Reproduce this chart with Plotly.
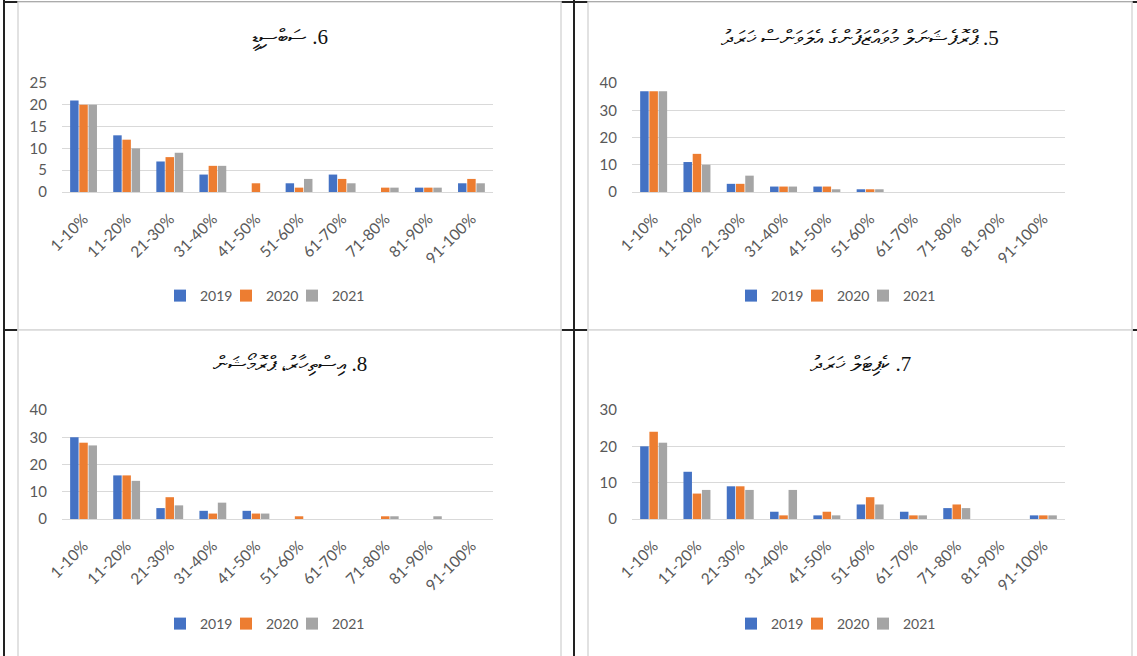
import plotly.graph_objects as go

W, H = 1137, 656

categories = ["1-10%", "11-20%", "21-30%", "31-40%", "41-50%",
              "51-60%", "61-70%", "71-80%", "81-90%", "91-100%"]
years = ["2019", "2020", "2021"]
colors = ["#4472C4", "#ED7D31", "#A5A5A5"]

# Chart 6 (top-left)
title_6 = "6. ސަބްސިޑީ"
c6_2019 = [21, 13, 7, 4, 0, 2, 4, 0, 1, 2]
c6_2020 = [20, 12, 8, 6, 2, 1, 3, 1, 1, 3]
c6_2021 = [20, 10, 9, 6, 0, 3, 2, 1, 1, 2]
c6_ticks = [0, 5, 10, 15, 20, 25]

# Chart 5 (top-right)
title_5 = "5. ޕްރޮފެޝަނަލް މުވައްޒަފުންގެ އެލަވަންސް ޚަރަދު"
c5_2019 = [37, 11, 3, 2, 2, 1, 0, 0, 0, 0]
c5_2020 = [37, 14, 3, 2, 2, 1, 0, 0, 0, 0]
c5_2021 = [37, 10, 6, 2, 1, 1, 0, 0, 0, 0]
c5_ticks = [0, 10, 20, 30, 40]

# Chart 8 (bottom-left)
title_8 = "8. އިސްތިހާރު، ޕްރޮމޯޝަން"
c8_2019 = [30, 16, 4, 3, 3, 0, 0, 0, 0, 0]
c8_2020 = [28, 16, 8, 2, 2, 1, 0, 1, 0, 0]
c8_2021 = [27, 14, 5, 6, 2, 0, 0, 1, 1, 0]
c8_ticks = [0, 10, 20, 30, 40]

# Chart 7 (bottom-right)
title_7 = "7. ކެޕިޓަލް ޚަރަދު"
c7_2019 = [20, 13, 9, 2, 1, 4, 2, 3, 0, 1]
c7_2020 = [24, 7, 9, 1, 2, 6, 1, 4, 0, 1]
c7_2021 = [21, 8, 8, 8, 1, 4, 1, 3, 0, 1]
c7_ticks = [0, 10, 20, 30]

def px_x(p):
    return p / W

def px_y(p):
    return 1 - p / H

panels = [
    dict(title=title_6, series=[c6_2019, c6_2020, c6_2021], ticks=c6_ticks,
         box=(18, 2, 561, 330), plot=(62, 83, 493, 192), tc=(290, 38), lc=(269, 296)),
    dict(title=title_5, series=[c5_2019, c5_2020, c5_2021], ticks=c5_ticks,
         box=(588, 2, 1132, 330), plot=(632, 83, 1065, 192), tc=(860, 38), lc=(840, 296)),
    dict(title=title_8, series=[c8_2019, c8_2020, c8_2021], ticks=c8_ticks,
         box=(18, 330, 561, 660), plot=(62, 410, 493, 519), tc=(290, 364), lc=(269, 624)),
    dict(title=title_7, series=[c7_2019, c7_2020, c7_2021], ticks=c7_ticks,
         box=(588, 330, 1132, 660), plot=(632, 410, 1065, 519), tc=(860, 364), lc=(840, 624)),
]

LEG_PITCH = 66      # px between legend entries
LEG_SPAN = 190      # px, whole legend row width (symbol of first to end of last text)
LEG_SYM_OFF = 20    # px from legend box left edge to symbol center (plotly default)

fig = go.Figure()
shapes = []
annotations = []
layout = dict(
    width=W, height=H,
    margin=dict(l=0, r=0, t=0, b=0, pad=0, autoexpand=False),
    paper_bgcolor="white", plot_bgcolor="rgba(0,0,0,0)",
    barmode="group", bargap=0.36, bargroupgap=0.08,
    font=dict(family="Lato, Carlito, sans-serif", color="#595959", size=14),
)

shapes += [
    dict(type="line", xref="paper", yref="paper", x0=px_x(4), x1=px_x(4), y0=0, y1=1,
         line=dict(color="#222222", width=2), layer="below"),
    dict(type="line", xref="paper", yref="paper", x0=px_x(574), x1=px_x(574), y0=0, y1=1,
         line=dict(color="#222222", width=2), layer="below"),
    dict(type="line", xref="paper", yref="paper", x0=px_x(4), x1=1, y0=px_y(330), y1=px_y(330),
         line=dict(color="#222222", width=2), layer="below"),
    dict(type="line", xref="paper", yref="paper", x0=px_x(4), x1=1, y0=px_y(2), y1=px_y(2),
         line=dict(color="#222222", width=2), layer="below"),
]

leg_n = 0
for i, p in enumerate(panels):
    k = "" if i == 0 else str(i + 1)
    xa, ya = "x" + k, "y" + k
    bx0, by0, bx1, by1 = p["box"]
    shapes.append(dict(type="rect", xref="paper", yref="paper",
                       x0=px_x(bx0), x1=px_x(bx1), y0=px_y(by1), y1=px_y(by0),
                       fillcolor="white", line=dict(color="#D9D9D9", width=1.5), layer="below"))
    first_sym = p["lc"][0] - LEG_SPAN / 2 + 6
    for j, (yr, vals, col) in enumerate(zip(years, p["series"], colors)):
        leg_n += 1
        lg = "legend" if leg_n == 1 else "legend%d" % leg_n
        fig.add_trace(go.Bar(x=categories, y=vals, name=yr, marker=dict(color=col, line=dict(width=0)),
                             xaxis=xa, yaxis=ya, legend=lg, showlegend=True, hoverinfo="skip"))
        sym_c = first_sym + j * LEG_PITCH
        layout[lg] = dict(
            orientation="h", x=px_x(sym_c - LEG_SYM_OFF), y=px_y(p["lc"][1]),
            xanchor="left", yanchor="middle", bgcolor="rgba(0,0,0,0)",
            font=dict(size=14, color="#595959"), itemwidth=30, tracegroupgap=0,
        )
    x0, y0, x1, y1 = p["plot"]
    layout["xaxis" + k] = dict(
        domain=[px_x(x0), px_x(x1)], anchor=ya, type="category", automargin=False,
        range=[-0.5, len(categories) - 0.5], tickangle=-45,
        showgrid=False, showline=False, ticks="", ticklabelstandoff=14,
        tickfont=dict(size=15.5, color="#595959"), fixedrange=True,
    )
    layout["yaxis" + k] = dict(
        domain=[px_y(y1), px_y(y0)], anchor=xa, automargin=False,
        range=[0, max(p["ticks"])], tickvals=p["ticks"],
        showgrid=True, gridcolor="#D9D9D9", gridwidth=1,
        zeroline=True, zerolinecolor="#D9D9D9", zerolinewidth=1,
        showline=False, ticks="", ticklabelstandoff=14,
        tickfont=dict(size=15, color="#595959"), fixedrange=True,
    )
    annotations.append(dict(
        text="\u202B" + p["title"] + "\u202C", xref="paper", yref="paper",
        x=px_x(p["tc"][0]), y=px_y(p["tc"][1]), xanchor="center", yanchor="middle",
        showarrow=False, font=dict(family="Liberation Serif, serif", size=21, color="#111111"),
    ))

layout["shapes"] = shapes
layout["annotations"] = annotations
fig.update_layout(**layout)
fig.write_html(
    "out.html",
    config={"displayModeBar": False},
    post_script="document.documentElement.style.margin='0';document.body.style.margin='0';document.body.style.overflow='hidden';",
)
